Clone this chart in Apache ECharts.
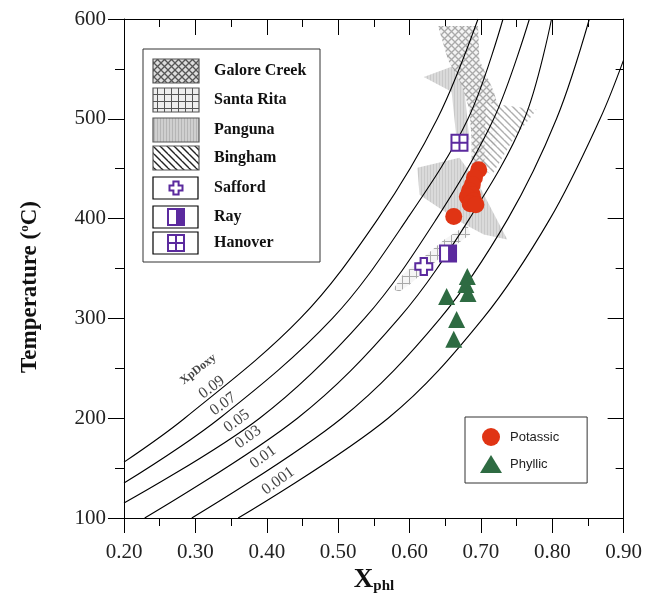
<!DOCTYPE html>
<html><head><meta charset="utf-8">
<script src="https://cdn.jsdelivr.net/npm/echarts@6/dist/echarts.min.js"></script>
<style>html,body{margin:0;padding:0;background:#fff}#c{width:645px;height:605px}</style>
</head><body><div id="c"></div>
<script>
// ---------- data ----------
const xTicksMin = 0.2, xTicksMax = 0.9, xStep = 0.1;
const yTicksMin = 100, yTicksMax = 600, yStep = 100;

// isopleths of XpDoxy : [Xphl, T]
const isoNames = ['0.09', '0.07', '0.05', '0.03', '0.01', '0.001'];
const iso009 = [[0.200,156],[0.285,200],[0.447,300],[0.556,400],[0.639,500],[0.696,600]];
const iso007 = [[0.200,135],[0.334,200],[0.492,300],[0.597,400],[0.682,500],[0.731,600]];
const iso005 = [[0.200,115],[0.390,200],[0.537,300],[0.638,400],[0.718,500],[0.768,600]];
const iso003 = [[0.229,100],[0.443,200],[0.585,300],[0.684,400],[0.761,500],[0.799,600]];
const iso001 = [[0.295,100],[0.505,200],[0.643,300],[0.738,400],[0.806,500],[0.852,600]];
const iso0001 = [[0.360,100],[0.570,200],[0.703,300],[0.797,400],[0.867,500],[0.900,559]];
const isoLabelPos = [[0.323,231],[0.339,214],[0.358,197],[0.374,181],[0.395,161],[0.416,137]];
const isoTitlePos = [0.304,249];

const potassic = [[0.697,449],[0.691,441],[0.688,434],[0.684,428],[0.688,424],[0.681,422],[0.690,418],[0.685,415],[0.693,414],[0.662,402]];
const phyllic = [[0.681,342],[0.679,334],[0.682,325],[0.652,322],[0.666,299],[0.662,279]];
const safford = [[0.620,352]];
const ray = [[0.654,365]];
const hanover = [[0.670,476]];

// deposit fields (polygons) [Xphl, T]
const galoreCreek = [[0.640,593],[0.696,593],[0.698,559],[0.717,529],[0.726,509],[0.724,479],[0.705,451],[0.687,454],[0.687,479],[0.684,509],[0.673,534],[0.654,559]];
const pangunaUpper = [[0.620,542],[0.673,556],[0.684,479],[0.666,479],[0.659,527]];
const pangunaLower = [[0.611,451],[0.670,461],[0.697,434],[0.737,379],[0.704,384],[0.670,397],[0.614,424]];
const santaRita = [[0.577,329],[0.591,344],[0.649,379],[0.681,394],[0.685,384],[0.656,369],[0.600,334],[0.586,327]];
const bingham = [[0.708,516],[0.778,509],[0.745,479],[0.716,444],[0.705,448],[0.705,480]];

const legendNames = ['Galore Creek','Santa Rita','Panguna','Bingham','Safford','Ray','Hanover'];

// ---------- styling helpers ----------
const PURPLE = '#5b2a9e';
const SERIF = 'Liberation Serif';
function pat(kind, dark){
  const c = document.createElement('canvas');
  const s = kind==='panguna'?3:7;
  c.width = s; c.height = s;
  const g = c.getContext('2d');
  const line = dark ? '#555' : '#9a9a9a';
  if(kind==='galore'){
    g.fillStyle = dark?'#ddd':'#f2f2f2'; g.fillRect(0,0,s,s);
    g.strokeStyle=line; g.lineWidth=1.3;
    g.beginPath(); g.moveTo(0,0); g.lineTo(s,s); g.moveTo(s,0); g.lineTo(0,s); g.stroke();
  } else if(kind==='santa'){
    g.fillStyle = dark?'#eee':'#f4f4f4'; g.fillRect(0,0,s,s);
    g.strokeStyle=line; g.lineWidth=1;
    g.beginPath(); g.moveTo(3.5,0); g.lineTo(3.5,s); g.moveTo(0,3.5); g.lineTo(s,3.5); g.stroke();
  } else if(kind==='panguna'){
    g.fillStyle = dark?'#cfcfcf':'#d4d4d4'; g.fillRect(0,0,s,s);
    g.fillStyle = dark?'#b5b5b5':'#c0c0c0'; g.fillRect(1,0,1,s);
  } else {
    g.fillStyle = '#fff'; g.fillRect(0,0,s,s);
    g.strokeStyle=dark?'#222':'#a0a0a0'; g.lineWidth=1.4;
    g.beginPath(); g.moveTo(0,0); g.lineTo(s,s); g.moveTo(-s,0); g.lineTo(0,s); g.moveTo(0,-s); g.lineTo(2*s,s); g.stroke();
  }
  return {image:c, repeat:'repeat'};
}
function polySeries(poly, kind){
  return {type:'custom', clip:true, silent:true, z:1, data:[[poly[0][0],poly[0][1]]],
    renderItem:(p, api)=>({type:'polygon', shape:{points: poly.map(q=>api.coord(q))},
      style:{fill: pat(kind,false), opacity:0.85}})};
}
function crossPts(cx, cy, a, b){
  return [[cx-a,cy-b],[cx+a,cy-b],[cx+a,cy-a],[cx+b,cy-a],[cx+b,cy+a],[cx+a,cy+a],[cx+a,cy+b],[cx-a,cy+b],[cx-a,cy+a],[cx-b,cy+a],[cx-b,cy-a],[cx-a,cy-a]];
}
function saffordShape(cx,cy){
  return {type:'polygon', shape:{points:crossPts(cx,cy,3.2,8.5)}, style:{fill:'#fff', stroke:PURPLE, lineWidth:2}};
}
function rayShape(cx,cy){
  return {type:'group', children:[
    {type:'rect', shape:{x:cx-8,y:cy-8,width:16,height:16}, style:{fill:'#fff', stroke:PURPLE, lineWidth:2}},
    {type:'rect', shape:{x:cx,y:cy-8,width:8,height:16}, style:{fill:PURPLE}}]};
}
function hanoverShape(cx,cy){
  return {type:'group', children:[
    {type:'rect', shape:{x:cx-8,y:cy-8,width:16,height:16}, style:{fill:'#fff', stroke:PURPLE, lineWidth:2}},
    {type:'line', shape:{x1:cx,y1:cy-8,x2:cx,y2:cy+8}, style:{stroke:PURPLE, lineWidth:2}},
    {type:'line', shape:{x1:cx-8,y1:cy,x2:cx+8,y2:cy}, style:{stroke:PURPLE, lineWidth:2}}]};
}
function markerSeries(data, fn){
  return {type:'custom', z:5, silent:true, data:data,
    renderItem:(p, api)=>{const pt = api.coord([api.value(0), api.value(1)]); return fn(pt[0], pt[1]);}};
}
function isoSeries(d){
  return {type:'line', data:d, smooth:0.35, symbol:'none', silent:true, z:3, clip:true,
    lineStyle:{color:'#000', width:1.1}};
}

// ---------- legend graphic (deposit fields) ----------
const LX = 143, LY = 49, rowY = [71,100,130,158,188,217,243];
const legendKinds = ['galore','santa','panguna','bingham'];
const lgChildren = [{type:'rect', shape:{x:LX,y:LY,width:177,height:213}, style:{fill:'#fff', stroke:'#333', lineWidth:1}}];
rowY.forEach((y,i)=>{
  if(i<4){
    lgChildren.push({type:'rect', shape:{x:153,y:y-12,width:46,height:24}, style:{fill:pat(legendKinds[i],true), stroke:'#555', lineWidth:1.2}});
  } else {
    lgChildren.push({type:'rect', shape:{x:153,y:y-11,width:45,height:22}, style:{fill:'#fff', stroke:'#000', lineWidth:1.2}});
    const f = [saffordShape, rayShape, hanoverShape][i-4];
    const sh = f(176,y); lgChildren.push(i===4 ? (sh.shape.points=crossPts(176,y,2.6,6.5), sh) : sh);
  }
  lgChildren.push({type:'text', x:214, y:y, style:{text:legendNames[i], fontFamily:SERIF, fontWeight:'bold', fontSize:16, fill:'#111', textVerticalAlign:'middle', verticalAlign:'middle'}});
});

const chart = echarts.init(document.getElementById('c'), null, {renderer:'canvas'});
const axisCommon = {type:'value', axisLine:{show:true, lineStyle:{color:'#000', width:1}}, splitLine:{show:false}};
chart.setOption({
  animation:false,
  backgroundColor:'#fff',
  grid:{left:124, right:21, top:19, bottom:87},
  xAxis:[
    Object.assign({}, axisCommon, {position:'bottom', min:xTicksMin, max:xTicksMax, interval:xStep,
      axisTick:{show:true, inside:false, length:15, lineStyle:{color:'#000'}},
      minorTick:{show:true, splitNumber:2, length:8, lineStyle:{color:'#000'}},
      axisLabel:{margin:24, fontFamily:SERIF, fontSize:21, color:'#222', formatter:v=>v.toFixed(2)}}),
    Object.assign({}, axisCommon, {position:'top', min:xTicksMin, max:xTicksMax, interval:xStep,
      axisTick:{show:true, inside:true, length:16, lineStyle:{color:'#000'}},
      minorTick:{show:true, splitNumber:2, length:8, lineStyle:{color:'#000'}},
      axisLabel:{show:false}})
  ],
  yAxis:[
    Object.assign({}, axisCommon, {position:'left', min:yTicksMin, max:yTicksMax, interval:yStep,
      axisTick:{show:true, inside:false, length:16, lineStyle:{color:'#000'}},
      minorTick:{show:true, splitNumber:2, length:9, lineStyle:{color:'#000'}},
      axisLabel:{margin:18, fontFamily:SERIF, fontSize:21, color:'#222'}}),
    Object.assign({}, axisCommon, {position:'right', min:yTicksMin, max:yTicksMax, interval:yStep,
      axisTick:{show:true, inside:true, length:16, lineStyle:{color:'#000'}},
      minorTick:{show:true, splitNumber:2, length:8, lineStyle:{color:'#000'}},
      axisLabel:{show:false}})
  ],
  legend:{data:['Potassic','Phyllic'], orient:'vertical', left:465, top:417,
    padding:[11,28,10,15], itemGap:9, itemWidth:22, itemHeight:18,
    borderColor:'#333', borderWidth:1, backgroundColor:'#fff',
    textStyle:{fontFamily:'Liberation Sans', fontSize:13, color:'#222', padding:[0,0,0,3]}},
  graphic:[
    {type:'group', children:lgChildren, z:10},
    {type:'text', x:30, y:287, rotation:Math.PI/2, style:{text:'{n|Temperature (}{s|o}{n|C)}', textAlign:'center', textVerticalAlign:'middle', align:'center', verticalAlign:'middle',
      rich:{n:{fontFamily:SERIF, fontWeight:'bold', fontSize:23, fill:'#111'}, s:{fontFamily:SERIF, fontWeight:'bold', fontSize:13, fill:'#111', padding:[0,0,10,0]}}}},
    {type:'text', x:374, y:580, style:{text:'{x|X}{p|phl}', textAlign:'center', textVerticalAlign:'middle', align:'center', verticalAlign:'middle',
      rich:{x:{fontFamily:SERIF, fontWeight:'bold', fontSize:27, fill:'#111'}, p:{fontFamily:SERIF, fontWeight:'bold', fontSize:15, fill:'#111', padding:[12,0,0,0]}}}}
  ],
  series:[
    polySeries(pangunaUpper,'panguna'),
    polySeries(pangunaLower,'panguna'),
    polySeries(santaRita,'santa'),
    polySeries(galoreCreek,'galore'),
    polySeries(bingham,'bingham'),
    isoSeries(iso009), isoSeries(iso007), isoSeries(iso005), isoSeries(iso003), isoSeries(iso001), isoSeries(iso0001),
    {type:'scatter', silent:true, z:4, symbolSize:0,
      data:isoNames.map((n,i)=>({name:n, value:isoLabelPos[i]})).concat([{name:'XpDoxy', value:isoTitlePos,
        label:{fontWeight:'bold', fontSize:12, rotate:38}}]),
      label:{show:true, position:'inside', formatter:p=>p.name, rotate:36, fontFamily:SERIF, fontSize:16, color:'#111'}},
    {name:'Potassic', type:'scatter', z:6, data:potassic, symbol:'circle', symbolSize:17, itemStyle:{color:'#e03414', opacity:1}},
    {name:'Phyllic', type:'scatter', z:6, data:phyllic, symbol:'triangle', symbolSize:17, itemStyle:{color:'#2e6b42', opacity:1}},
    markerSeries(safford, saffordShape),
    markerSeries(ray, rayShape),
    markerSeries(hanover, hanoverShape)
  ]
});
</script></body></html>
